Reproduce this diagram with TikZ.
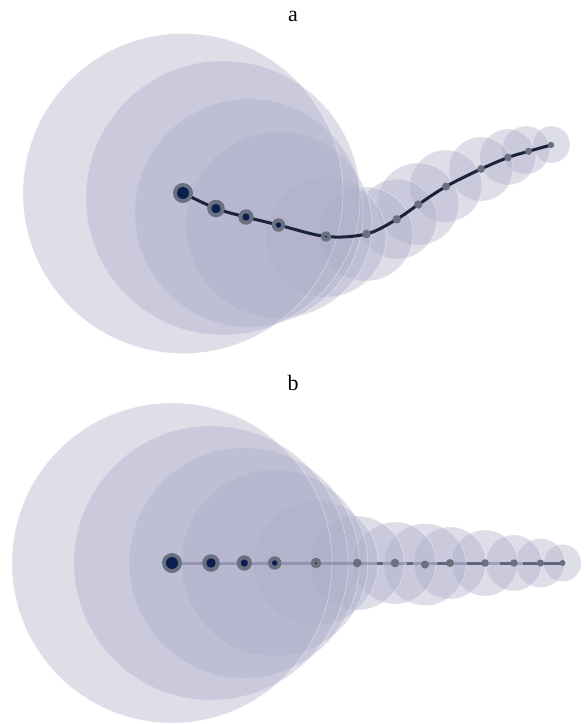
\documentclass[tikz,border=0pt]{standalone}
\usepackage{fontspec}
\setmainfont{Liberation Serif}
\definecolor{circfill}{RGB}{172,172,200}
\definecolor{dotgrey}{RGB}{105,112,128}
\definecolor{dotnavy}{RGB}{12,30,78}
\definecolor{curvecol}{RGB}{25,35,58}
\definecolor{linecol}{RGB}{110,110,150}
\definecolor{linedark}{RGB}{75,80,105}
\begin{document}
\begin{tikzpicture}[x=1pt,y=-1pt,
  unc/.style={fill=circfill,fill opacity=0.4,draw=white,draw opacity=0.5,line width=0.5pt},
  dotouter/.style={circle,fill=dotgrey,inner sep=0pt,draw=none},
  dotinner/.style={circle,fill=dotnavy,inner sep=0pt,draw=none},
  trajcurve/.style={draw=curvecol,line width=3pt,line cap=round,line join=round},
  bline/.style={draw=linecol,draw opacity=0.45,line width=3pt},
  bdark/.style={draw=linedark,draw opacity=0.75,line width=3pt},
  paneltitle/.style={anchor=base,font=\fontsize{22}{24}\selectfont,inner sep=0pt}]
\useasboundingbox (0,0) rectangle (586,724);

% ---------- panel a ----------
\node[paneltitle] (titlea) at (293,21) {a};
\foreach \i/\x/\y in {1/183/193,2/216/208.5,3/246/217,4/278.5/225,5/326/236.5,
  6/366.5/234,7/396.7/219.3,8/418.3/204.5,9/446/186.5,10/481/169,
  11/508/157.5,12/528.5/151.3,13/551/145}
  \coordinate (pa\i) at (\x,\y);
\foreach \x/\y/\r in {551.5/144.5/18.5,526/150/24,508/157/28,481/169/32,446/186/36,
  418/204/41,397/219/40,366/234/47,326/237/60,279/225/93,249/213/114,
  223/198/137,183/193.5/160}
  \path[unc] (\x,\y) circle[radius=\r pt];
\draw[trajcurve] plot[smooth,tension=0.55] coordinates {(pa1) (pa2) (pa3) (pa4) (pa5)
  (pa6) (pa7) (pa8) (pa9) (pa10) (pa11) (pa12) (pa13)};
\foreach \i/\ro/\ri in {1/10/6,2/8.8/4.7,3/7.7/3.6,4/6.7/2.7,5/5.3/1.0,
  6/4.3/0,7/4.2/0,8/4.1/0,9/4/0,10/3.9/0,11/3.8/0,12/3.6/0,13/3.2/0}{
  \node[dotouter,minimum size=2*\ro pt] (da\i) at (pa\i) {};
  \ifdim \ri pt>0pt \node[dotinner,minimum size=2*\ri pt] (dai\i) at (pa\i) {};\fi
}

% ---------- panel b ----------
\node[paneltitle] (titleb) at (293,390) {b};
\foreach \i/\x/\y in {1/172/563,2/211/563,3/244.3/563,4/274.7/563,5/316/563,
  6/357.3/563,7/395/563,8/425/564.5,9/450/563,10/485/563,
  11/514/563,12/540.5/563,13/562.5/563}
  \coordinate (pb\i) at (\x,\y);
\foreach \i/\r in {13/18.7,12/24.5,11/28,10/33,9/36,8/41,7/41,6/47,5/62,4/93,3/115,2/137,1/160}
  \path[unc] (pb\i) circle[radius=\r pt];
\draw[bline] (pb1) -- (pb13);
\foreach \a/\b in {377/383,407/413,437/448,467/483,500/512,523/540,543/562}
  \draw[bdark] (\a,563) -- (\b,563);
\foreach \i/\ro/\ri in {1/10/6,2/8.8/4.7,3/7.7/3.6,4/6.7/2.7,5/5.3/1.0,
  6/4.3/0,7/4.3/0,8/4/0,9/4/0,10/3.8/0,11/3.7/0,12/3.5/0,13/3.0/0}{
  \node[dotouter,minimum size=2*\ro pt] (db\i) at (pb\i) {};
  \ifdim \ri pt>0pt \node[dotinner,minimum size=2*\ri pt] (dbi\i) at (pb\i) {};\fi
}
\end{tikzpicture}
\end{document}
